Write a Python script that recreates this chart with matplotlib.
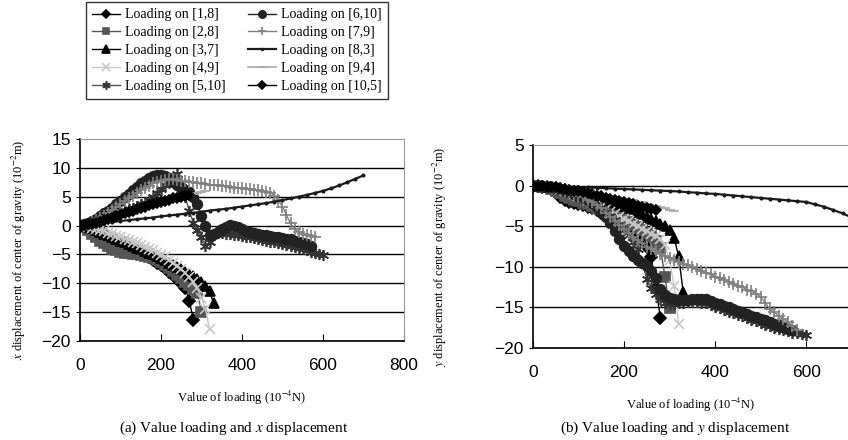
import numpy as np
import matplotlib.pyplot as plt

plt.rcParams['font.family'] = ['Liberation Sans', 'DejaVu Sans']
plt.rcParams['mathtext.fontset'] = 'stix'

# load grids (10^-4 N), one per loading point
load_18 = np.arange(0, 290, 10)
load_28 = np.arange(0, 310, 10)
load_37 = np.arange(0, 340, 10)
load_49 = np.arange(0, 330, 10)
load_510 = np.arange(0, 610, 10)
load_610 = np.arange(0, 580, 10)
load_79 = np.arange(0, 590, 10)
load_83 = np.arange(0, 720, 20)
load_94 = np.arange(0, 320, 10)
load_105 = np.arange(0, 280, 10)

# x displacement of centre of gravity (10^-2 m)
xd_18 = [0, -0.1, -0.3, -0.5, -0.8, -1.1, -1.5, -1.9, -2.3, -2.7, -3.1, -3.5, -3.9, -4.2, -4.5,
         -4.8, -5.1, -5.5, -5.9, -6.4, -6.9, -7.4, -8.0, -8.6, -9.3, -10.0, -10.9, -13.0, -16.3]
xd_28 = [0, -0.3, -0.8, -1.4, -2.0, -2.6, -3.1, -3.6, -4.0, -4.3, -4.5, -4.7, -4.8, -4.9, -5.0,
         -5.1, -5.2, -5.4, -5.6, -5.9, -6.3, -6.8, -7.3, -7.9, -8.5, -9.1, -9.7, -10.3, -11.0,
         -11.6, -14.9]
xd_37 = [0, -0.1, -0.3, -0.5, -0.8, -1.1, -1.4, -1.7, -2.0, -2.3, -2.6, -2.9, -3.2, -3.5, -3.8,
         -4.1, -4.4, -4.7, -5.0, -5.3, -5.6, -6.0, -6.4, -6.8, -7.2, -7.6, -8.0, -8.4, -8.8, -9.3,
         -9.8, -10.4, -11.3, -13.5]
xd_49 = [0, 0, -0.2, -0.4, -0.6, -0.8, -1.0, -1.3, -1.5, -1.8, -2.0, -2.3, -2.5, -2.8, -3.1,
         -3.4, -3.7, -4.0, -4.3, -4.7, -5.1, -5.5, -6.0, -6.5, -7.0, -7.6, -8.2, -8.9, -9.7,
         -10.9, -12.5, -14.5, -18.0]
xd_510 = [0, 0.1, 0.2, 0.4, 0.6, 0.8, 1.0, 1.3, 1.6, 1.9, 2.2, 2.5, 2.8, 3.1, 3.4, 3.7, 4.0,
          4.4, 4.9, 5.6, 6.3, 7.0, 7.6, 8.3, 9.0, 7.5, 5.0, 2.5, 0.5, -0.8, -2.0, -3.6, -2.8,
          -1.5, -1.2, -1.3, -1.4, -1.5, -1.6, -1.7, -1.8, -1.9, -2.0, -2.2, -2.3, -2.5, -2.6,
          -2.8, -2.9, -3.1, -3.2, -3.4, -3.5, -3.7, -3.9, -4.1, -4.3, -4.5, -4.7, -4.9, -5.1]
xd_610 = [0, 0.2, 0.5, 0.8, 1.2, 1.6, 2.1, 2.6, 3.1, 3.7, 4.3, 4.9, 5.5, 6.1, 6.7, 7.3, 7.8,
          8.3, 8.6, 8.8, 8.8, 8.6, 8.2, 7.6, 7.0, 6.5, 6.1, 5.8, 5.0, 3.7, 1.6, -0.1, -1.6,
          -1.5, -1.1, -0.6, -0.2, 0.1, 0.0, -0.3, -0.6, -0.9, -1.1, -1.3, -1.4, -1.6, -1.7,
          -1.8, -1.9, -2.0, -2.1, -2.3, -2.4, -2.6, -2.8, -3.0, -3.2, -3.5]
xd_79 = [0, 0.1, 0.3, 0.6, 0.9, 1.3, 1.7, 2.2, 2.7, 3.2, 3.7, 4.2, 4.7, 5.2, 5.7, 6.1, 6.5,
         6.9, 7.3, 7.6, 7.8, 7.9, 8.0, 8.0, 7.9, 7.8, 7.7, 7.6, 7.5, 7.4, 7.3, 7.2, 7.1, 7.0,
         7.0, 6.9, 6.8, 6.7, 6.6, 6.6, 6.5, 6.4, 6.3, 6.2, 6.1, 6.0, 5.9, 5.7, 5.2, 4.4, 3.3,
         1.8, 0.4, -0.6, -1.1, -1.4, -1.6, -1.8, -1.9]
xd_83 = [0, 0.15, 0.3, 0.45, 0.6, 0.8, 0.95, 1.1, 1.25, 1.4, 1.6, 1.75, 1.9, 2.05, 2.2, 2.4,
         2.6, 2.75, 2.9, 3.1, 3.3, 3.5, 3.7, 3.9, 4.15, 4.4, 4.7, 5.0, 5.3, 5.65, 6.0, 6.45,
         6.95, 7.5, 8.1, 8.7]
xd_94 = [0, 0.1, 0.2, 0.35, 0.5, 0.7, 0.9, 1.1, 1.3, 1.5, 1.7, 1.9, 2.1, 2.3, 2.5, 2.7, 2.9,
         3.1, 3.3, 3.5, 3.7, 3.9, 4.1, 4.3, 4.5, 4.7, 4.9, 5.1, 5.4, 5.6, 5.8, 6.0]
xd_105 = [0, 0.1, 0.2, 0.35, 0.5, 0.7, 0.9, 1.1, 1.35, 1.6, 1.85, 2.1, 2.35, 2.6, 2.85, 3.1,
          3.3, 3.5, 3.7, 3.9, 4.1, 4.3, 4.5, 4.7, 4.85, 5.0, 5.2, 5.3]

# y displacement of centre of gravity (10^-2 m)
yd_18 = [0, -0.05, -0.1, -0.2, -0.4, -0.8, -1.4, -1.8, -2.0, -2.1, -2.2, -2.4, -2.6, -2.8,
         -3.0, -3.3, -3.6, -3.9, -4.2, -4.5, -4.8, -5.1, -5.5, -6.0, -6.7, -7.6, -8.8, -12.6,
         -16.3]
yd_28 = [0, -0.05, -0.1, -0.2, -0.4, -0.6, -0.9, -1.2, -1.5, -1.7, -1.9, -2.1, -2.3, -2.5,
         -2.7, -2.9, -3.1, -3.3, -3.6, -3.9, -4.2, -4.5, -4.8, -5.1, -5.4, -5.8, -6.2, -6.8,
         -7.7, -11.2, -15.1]
yd_37 = [0, 0, -0.05, -0.1, -0.15, -0.2, -0.3, -0.4, -0.5, -0.6, -0.75, -0.9, -1.05, -1.2,
         -1.35, -1.5, -1.7, -1.9, -2.1, -2.3, -2.5, -2.7, -2.9, -3.2, -3.5, -3.8, -4.1, -4.4,
         -4.7, -5.0, -5.4, -6.4, -8.7, -13.1]
yd_49 = [0, 0, -0.05, -0.1, -0.2, -0.3, -0.45, -0.6, -0.8, -1.0, -1.2, -1.4, -1.7, -2.0,
         -2.3, -2.6, -2.9, -3.2, -3.5, -3.8, -4.1, -4.4, -4.7, -5.0, -5.3, -5.6, -5.9, -6.2,
         -6.5, -7.3, -9.2, -12.3, -17.0]
yd_510 = [0, 0, -0.05, -0.1, -0.2, -0.3, -0.45, -0.6, -0.8, -1.0, -1.2, -1.5, -1.8, -2.1,
          -2.4, -2.8, -3.2, -3.7, -4.2, -4.8, -5.4, -6.1, -6.9, -7.8, -9.5, -11.5, -12.6,
          -13.4, -14.0, -14.4, -14.6, -14.6, -14.5, -14.4, -14.3, -14.3, -14.3, -14.4, -14.5,
          -14.7, -14.9, -15.1, -15.3, -15.5, -15.7, -15.9, -16.1, -16.3, -16.5, -16.7, -16.9,
          -17.1, -17.3, -17.5, -17.6, -17.8, -17.9, -18.1, -18.2, -18.3, -18.4]
yd_610 = [0, 0, -0.05, -0.1, -0.2, -0.3, -0.45, -0.6, -0.8, -1.0, -1.2, -1.4, -1.7, -2.1,
          -2.6, -3.2, -3.8, -4.6, -5.6, -6.5, -7.4, -8.1, -8.7, -9.1, -9.5, -9.9, -10.5,
          -11.4, -12.7, -13.5, -13.8, -14.0, -14.1, -14.1, -14.1, -14.0, -13.9, -13.9, -14.0,
          -14.2, -14.4, -14.6, -14.8, -15.0, -15.2, -15.4, -15.6, -15.8, -16.0, -16.2, -16.4,
          -16.6, -16.8, -17.0, -17.2, -17.4, -17.6, -17.8]
yd_79 = [0, 0, -0.05, -0.1, -0.2, -0.3, -0.45, -0.6, -0.8, -1.0, -1.2, -1.4, -1.7, -2.0,
         -2.4, -2.8, -3.3, -3.8, -4.3, -4.8, -5.3, -5.8, -6.3, -6.7, -7.1, -7.5, -7.8, -8.1,
         -8.4, -8.7, -8.9, -9.2, -9.4, -9.6, -9.8, -10.0, -10.3, -10.5, -10.7, -10.9, -11.2,
         -11.4, -11.6, -11.8, -12.1, -12.3, -12.5, -12.8, -13.0, -13.3, -13.7, -14.4, -15.2,
         -15.6, -16.0, -16.4, -16.8, -17.3, -17.8]
yd_83 = [0, -0.02, -0.05, -0.08, -0.12, -0.15, -0.2, -0.25, -0.3, -0.35, -0.4, -0.45, -0.5,
         -0.55, -0.6, -0.65, -0.7, -0.8, -0.85, -0.95, -1.0, -1.1, -1.2, -1.3, -1.4, -1.5,
         -1.6, -1.7, -1.8, -1.9, -2.0, -2.3, -2.6, -3.0, -3.4, -3.9]
yd_94 = [0, 0, -0.05, -0.1, -0.15, -0.2, -0.3, -0.35, -0.4, -0.5, -0.55, -0.65, -0.75, -0.85,
         -0.95, -1.05, -1.15, -1.25, -1.35, -1.45, -1.6, -1.7, -1.8, -1.95, -2.05, -2.2,
         -2.35, -2.5, -2.65, -2.8, -2.95, -3.1]
yd_105 = [0, 0, -0.05, -0.1, -0.15, -0.2, -0.3, -0.4, -0.5, -0.6, -0.7, -0.8, -0.95, -1.05,
          -1.2, -1.3, -1.45, -1.6, -1.75, -1.9, -2.0, -2.15, -2.3, -2.45, -2.6, -2.7, -2.85,
          -3.0]

labels = ['Loading on [1,8]', 'Loading on [2,8]', 'Loading on [3,7]', 'Loading on [4,9]',
          'Loading on [5,10]', 'Loading on [6,10]', 'Loading on [7,9]', 'Loading on [8,3]',
          'Loading on [9,4]', 'Loading on [10,5]']
loads = [load_18, load_28, load_37, load_49, load_510, load_610, load_79, load_83, load_94, load_105]
xds = [xd_18, xd_28, xd_37, xd_49, xd_510, xd_610, xd_79, xd_83, xd_94, xd_105]
yds = [yd_18, yd_28, yd_37, yd_49, yd_510, yd_610, yd_79, yd_83, yd_94, yd_105]

# line colour, line width, marker, marker size, marker colour
styles = [
    ('#000000', 1, 'D', 6, '#000000'),
    ('#555555', 1, 's', 6.5, '#555555'),
    ('#000000', 1, '^', 7, '#000000'),
    ('#c8c8c8', 1, 'x', 7, '#c8c8c8'),
    ('#555555', 1, (6, 2, 0), 8, '#333333'),
    ('#222222', 1, 'o', 7, '#222222'),
    ('#808080', 1, '+', 8, '#808080'),
    ('#1a1a1a', 1.6, '.', 3.5, '#1a1a1a'),
    ('#aaaaaa', 1.2, '_', 7, '#aaaaaa'),
    ('#000000', 1, 'D', 5.5, '#000000'),
]

fig = plt.figure(figsize=(8.48, 4.4), dpi=100)
ax1 = fig.add_axes([0.0943, 0.225, 0.382, 0.459])
ax2 = fig.add_axes([0.6285, 0.209, 0.3715, 0.461])

handles = []
for ld, xd, yd, lab, (lc, lw, mk, ms, mc) in zip(loads, xds, yds, labels, styles):
    h, = ax1.plot(ld, xd, color=lc, lw=lw, marker=mk, ms=ms, mfc=mc, mec=mc, mew=1.2, label=lab)
    ax2.plot(ld, yd, color=lc, lw=lw, marker=mk, ms=ms, mfc=mc, mec=mc, mew=1.2)
    handles.append(h)

def style_axes(ax, ylim, xlim, xticks, yticks):
    ax.set_xlim(*xlim)
    ax.set_ylim(*ylim)
    ax.set_xticks(xticks)
    ax.set_yticks(yticks)
    ax.set_yticklabels([str(t).replace('-', '\u2212') for t in yticks])
    ax.yaxis.grid(True, color='black', lw=1)
    ax.get_ygridlines()[-1].set_visible(False)
    ax.set_axisbelow(True)
    for s in ['top', 'right']:
        ax.spines[s].set_color('#999999')
    for s in ['left', 'bottom']:
        ax.spines[s].set_color('black')
        ax.spines[s].set_linewidth(1.2)
    ax.tick_params(axis='x', direction='in', length=5, labelsize=12.5, pad=12)
    ax.tick_params(axis='y', direction='out', length=3, labelsize=12.5)
    ax.set_xlabel('Value of loading (10$^{-4}$N)', fontfamily='Liberation Serif', fontsize=9, labelpad=12)

style_axes(ax1, (-20, 15), (0, 800), [0, 200, 400, 600, 800], [-20, -15, -10, -5, 0, 5, 10, 15])
style_axes(ax2, (-20, 5), (0, 692), [0, 200, 400, 600], [-20, -15, -10, -5, 0, 5])
ax2.spines['right'].set_visible(False)

ax1.set_ylabel('$x$ displacement of center of gravity (10$^{-2}$m)', fontfamily='Liberation Serif', fontsize=9)
ax2.set_ylabel('$y$ displacement of center of gravity (10$^{-2}$m)', fontfamily='Liberation Serif', fontsize=9)
ax1.yaxis.set_label_coords(-0.16, 0.45)
ax2.yaxis.set_label_coords(-0.265, 0.45)

fig.text(0.275, 0.018, '(a) Value loading and $x$ displacement', fontfamily='Liberation Serif', fontsize=11, ha='center')
fig.text(0.796, 0.018, '(b) Value loading and $y$ displacement', fontfamily='Liberation Serif', fontsize=11, ha='center')

leg = fig.legend(handles=handles, loc='upper left', bbox_to_anchor=(0.101, 0.995), ncol=2,
                 prop={'family': 'Liberation Serif', 'size': 10}, frameon=True, fancybox=False,
                 handlelength=2.0, handletextpad=0.4, columnspacing=1.6, labelspacing=0.35,
                 borderpad=0.45, borderaxespad=0, markerscale=0.75)
leg.get_frame().set_edgecolor('black')
leg.get_frame().set_linewidth(1)

fig.savefig('out.png', dpi=100)
